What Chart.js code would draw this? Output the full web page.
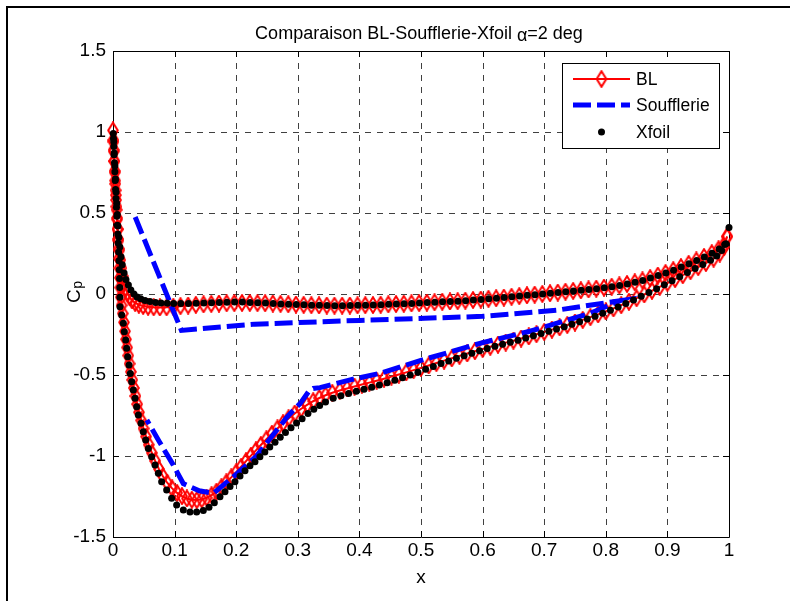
<!DOCTYPE html>
<html>
<head>
<meta charset="utf-8">
<title>Comparaison BL-Soufflerie-Xfoil</title>
<script src="https://cdn.jsdelivr.net/npm/chart.js@4.4.0/dist/chart.umd.min.js"></script>
<style>
  html, body { margin: 0; padding: 0; background: #fff; overflow: hidden; }
  canvas { display: block; }
</style>
</head>
<body>
<canvas id="cp" width="790" height="601"></canvas>
<script>
// axis ticks
const xTicks = [0, 0.1, 0.2, 0.3, 0.4, 0.5, 0.6, 0.7, 0.8, 0.9, 1];
const yTicks = [-1.5, -1, -0.5, 0, 0.5, 1, 1.5];

// BL - intrados, nose -> trailing edge
const blLowerX = [
  0.0, 0.0006, 0.0012, 0.002, 0.0028, 0.0037, 0.0046, 0.0056, 0.0066, 0.0077,
  0.0089, 0.0102, 0.0118, 0.0136, 0.0157, 0.018, 0.0206, 0.0236, 0.027, 0.031,
  0.036, 0.042, 0.049, 0.057, 0.066, 0.076, 0.087, 0.098, 0.1095, 0.122,
  0.1345, 0.147, 0.1595, 0.172, 0.1845, 0.197, 0.2095, 0.222, 0.2345, 0.247,
  0.2595, 0.272, 0.2845, 0.297, 0.3095, 0.322, 0.3345, 0.347, 0.3595, 0.372,
  0.3845, 0.397, 0.4095, 0.422, 0.4345, 0.447, 0.4595, 0.472, 0.4845, 0.497,
  0.5095, 0.522, 0.5345, 0.547, 0.5595, 0.572, 0.5845, 0.597, 0.6095, 0.622,
  0.6345, 0.647, 0.6595, 0.672, 0.6845, 0.697, 0.7095, 0.722, 0.7345, 0.747,
  0.7595, 0.772, 0.7845, 0.797, 0.8095, 0.822, 0.8345, 0.847, 0.8595, 0.872,
  0.8845, 0.897, 0.9095, 0.922, 0.9345, 0.947, 0.9595, 0.972, 0.983, 0.991,
  0.997];
const blLowerCp = [
  1.01, 0.95, 0.89, 0.82, 0.75, 0.68, 0.61, 0.54, 0.47, 0.4,
  0.33, 0.27, 0.21, 0.16, 0.11, 0.07, 0.035, 0.005, -0.02, -0.04,
  -0.055, -0.066, -0.074, -0.079, -0.082, -0.083, -0.082, -0.079, -0.075, -0.071,
  -0.067, -0.064, -0.061, -0.059, -0.057, -0.056, -0.055, -0.055, -0.056, -0.057,
  -0.059, -0.061, -0.063, -0.065, -0.067, -0.069, -0.07, -0.071, -0.072, -0.072,
  -0.071, -0.07, -0.069, -0.068, -0.066, -0.064, -0.062, -0.06, -0.058, -0.056,
  -0.053, -0.051, -0.048, -0.046, -0.044, -0.041, -0.037, -0.034, -0.03, -0.026,
  -0.022, -0.017, -0.013, -0.008, -0.004, 0.0, 0.005, 0.009, 0.014, 0.019,
  0.023, 0.028, 0.033, 0.039, 0.045, 0.053, 0.062, 0.072, 0.084, 0.098,
  0.114, 0.13, 0.147, 0.166, 0.186, 0.207, 0.229, 0.252, 0.276, 0.3,
  0.355];

// BL - extrados, nose -> trailing edge
const blUpperX = [
  0.0008, 0.0014, 0.0021, 0.0028, 0.0035, 0.0042, 0.005, 0.0058, 0.0066, 0.0074,
  0.0082, 0.009, 0.0098, 0.0105, 0.0112, 0.0119, 0.0126, 0.0138, 0.0158, 0.0178,
  0.0195, 0.0212, 0.023, 0.0248, 0.0268, 0.029, 0.0313, 0.0338, 0.0365, 0.0393,
  0.0423, 0.0458, 0.0496, 0.0537, 0.058, 0.063, 0.0685, 0.0745, 0.081, 0.088,
  0.096, 0.104, 0.112, 0.12, 0.128, 0.136, 0.144, 0.152, 0.16, 0.168,
  0.176, 0.184, 0.192, 0.2, 0.208, 0.216, 0.224, 0.232, 0.24, 0.249,
  0.258, 0.267, 0.276, 0.285, 0.295, 0.305, 0.315, 0.325, 0.335, 0.345,
  0.356, 0.368, 0.38, 0.392, 0.404, 0.416, 0.428, 0.44, 0.452, 0.464,
  0.476, 0.488, 0.5, 0.5125, 0.525, 0.5375, 0.55, 0.5625, 0.575, 0.5875,
  0.6, 0.6125, 0.625, 0.6375, 0.65, 0.6625, 0.675, 0.6875, 0.7, 0.7125,
  0.725, 0.7375, 0.75, 0.7625, 0.775, 0.7875, 0.8, 0.8125, 0.825, 0.8375,
  0.85, 0.8625, 0.875, 0.8875, 0.9, 0.9125, 0.925, 0.9375, 0.95, 0.9625,
  0.975, 0.985, 0.992, 0.997];
const blUpperCp = [
  0.94, 0.88, 0.82, 0.76, 0.7, 0.64, 0.58, 0.52, 0.46, 0.4,
  0.34, 0.28, 0.22, 0.16, 0.1, 0.04, -0.02, -0.07, -0.12, -0.175,
  -0.23, -0.28, -0.33, -0.38, -0.43, -0.48, -0.53, -0.58, -0.63, -0.68,
  -0.73, -0.78, -0.83, -0.88, -0.93, -0.98, -1.03, -1.08, -1.125, -1.165,
  -1.2, -1.228, -1.248, -1.262, -1.27, -1.272, -1.268, -1.258, -1.242, -1.22,
  -1.193, -1.163, -1.132, -1.1, -1.066, -1.032, -0.998, -0.965, -0.932, -0.897,
  -0.863, -0.83, -0.798, -0.768, -0.738, -0.71, -0.685, -0.662, -0.642, -0.625,
  -0.61, -0.596, -0.583, -0.571, -0.559, -0.547, -0.535, -0.523, -0.51, -0.497,
  -0.484, -0.47, -0.456, -0.441, -0.426, -0.411, -0.397, -0.382, -0.367, -0.353,
  -0.339, -0.326, -0.313, -0.3, -0.288, -0.275, -0.262, -0.248, -0.234, -0.22,
  -0.206, -0.191, -0.176, -0.16, -0.143, -0.126, -0.108, -0.089, -0.069, -0.048,
  -0.026, -0.003, 0.02, 0.044, 0.068, 0.092, 0.116, 0.141, 0.166, 0.191,
  0.218, 0.25, 0.29, 0.355];

// Xfoil - intrados, nose -> trailing edge (last point is the TE value)
const xfoilLowerX = [
  0.0012, 0.002, 0.003, 0.004, 0.005, 0.006, 0.007, 0.008, 0.0095, 0.011,
  0.013, 0.015, 0.018, 0.021, 0.025, 0.029, 0.034, 0.039, 0.045, 0.052,
  0.06, 0.069, 0.078, 0.088, 0.0985,
  0.11, 0.1225, 0.135, 0.1475, 0.16, 0.1725, 0.185, 0.1975, 0.21, 0.2225,
  0.235, 0.2475, 0.26, 0.2725, 0.285, 0.2975, 0.31, 0.3225, 0.335, 0.3475,
  0.36, 0.3725, 0.385, 0.3975, 0.41, 0.4225, 0.435, 0.4475, 0.46, 0.4725,
  0.485, 0.4975, 0.51, 0.5225, 0.535, 0.5475, 0.56, 0.5725, 0.585, 0.5975,
  0.61, 0.6225, 0.635, 0.6475, 0.66, 0.6725, 0.685, 0.6975, 0.71, 0.7225,
  0.735, 0.7475, 0.76, 0.7725, 0.785, 0.7975, 0.81, 0.8225, 0.835, 0.8475,
  0.86, 0.8725, 0.885, 0.8975, 0.91, 0.9225, 0.935, 0.9475, 0.96, 0.9725,
  0.984, 0.993, 1.0];
const xfoilLowerCp = [
  0.94, 0.87, 0.79, 0.71, 0.63, 0.56, 0.49, 0.42, 0.35, 0.29,
  0.23, 0.18, 0.13, 0.09, 0.055, 0.025, 0.0, -0.018, -0.03, -0.04,
  -0.047, -0.052, -0.055, -0.057, -0.058,
  -0.058, -0.058, -0.057, -0.056, -0.054, -0.052, -0.051, -0.05, -0.05, -0.052,
  -0.054, -0.056, -0.058, -0.061, -0.063, -0.065, -0.067, -0.069, -0.07, -0.071,
  -0.072, -0.072, -0.071, -0.07, -0.069, -0.068, -0.066, -0.064, -0.062, -0.06,
  -0.058, -0.056, -0.053, -0.051, -0.048, -0.046, -0.044, -0.041, -0.037, -0.034,
  -0.03, -0.026, -0.022, -0.017, -0.013, -0.008, -0.004, 0.0, 0.005, 0.009,
  0.014, 0.019, 0.023, 0.028, 0.033, 0.039, 0.045, 0.053, 0.062, 0.072,
  0.084, 0.098, 0.114, 0.13, 0.147, 0.166, 0.186, 0.207, 0.229, 0.252,
  0.278, 0.305, 0.41];

// Xfoil - extrados, nose -> trailing edge
const xfoilUpperX = [
  0.0005, 0.0008, 0.0013, 0.0018, 0.0024, 0.003, 0.0036, 0.0042, 0.0049, 0.0056,
  0.0063, 0.007, 0.0077, 0.0084, 0.0091, 0.0097, 0.0102, 0.0106, 0.011, 0.0112,
  0.0114, 0.0141, 0.0168, 0.0184, 0.0206, 0.0222, 0.0238, 0.026, 0.0281, 0.0303,
  0.033, 0.0357, 0.0384, 0.0411, 0.0455, 0.0492, 0.053, 0.0573, 0.0628, 0.0682,
  0.0736, 0.079, 0.0871, 0.0952, 0.1033, 0.1142, 0.125, 0.1358, 0.1466, 0.1558,
  0.1645, 0.1737, 0.1818, 0.19, 0.198, 0.2062, 0.2143, 0.2224, 0.2305, 0.2385,
  0.2465, 0.2545, 0.263, 0.2715, 0.28, 0.289, 0.298, 0.307, 0.3165, 0.326,
  0.3355, 0.345, 0.3575, 0.37, 0.3825, 0.395, 0.4075, 0.42, 0.4325, 0.445,
  0.4575, 0.47, 0.4825, 0.495, 0.5075, 0.52, 0.5325, 0.545, 0.5575, 0.57,
  0.5825, 0.595, 0.6075, 0.62, 0.6325, 0.645, 0.6575, 0.67, 0.6825, 0.695,
  0.7075, 0.72, 0.7325, 0.745, 0.7575, 0.77, 0.7825, 0.795, 0.8075, 0.82,
  0.8325, 0.845, 0.8575, 0.87, 0.8825, 0.895, 0.9075, 0.92, 0.9325, 0.945,
  0.9575, 0.97, 0.98, 0.988, 0.995];
const xfoilUpperCp = [
  0.99, 0.96, 0.91, 0.86, 0.81, 0.755, 0.7, 0.645, 0.59, 0.535,
  0.48, 0.425, 0.37, 0.315, 0.26, 0.205, 0.15, 0.095, 0.04, -0.02,
  -0.078, -0.13, -0.181, -0.233, -0.284, -0.335, -0.387, -0.438, -0.49, -0.541,
  -0.593, -0.644, -0.696, -0.747, -0.798, -0.85, -0.901, -0.953, -1.004, -1.056,
  -1.107, -1.159, -1.21, -1.261, -1.302, -1.333, -1.345, -1.345, -1.337, -1.317,
  -1.288, -1.251, -1.22, -1.189, -1.159, -1.123, -1.091, -1.06, -1.035, -1.005,
  -0.975, -0.945, -0.915, -0.885, -0.855, -0.825, -0.797, -0.77, -0.738, -0.712,
  -0.688, -0.666, -0.644, -0.628, -0.614, -0.601, -0.588, -0.575, -0.562, -0.548,
  -0.533, -0.517, -0.5, -0.483, -0.465, -0.447, -0.429, -0.413, -0.397, -0.381,
  -0.365, -0.35, -0.336, -0.323, -0.31, -0.298, -0.285, -0.271, -0.258, -0.244,
  -0.23, -0.216, -0.202, -0.187, -0.171, -0.154, -0.137, -0.119, -0.1, -0.08,
  -0.059, -0.037, -0.014, 0.009, 0.033, 0.057, 0.082, 0.107, 0.132, 0.157,
  0.182, 0.208, 0.234, 0.268, 0.31];

// wind tunnel pressure taps, in measurement order
const soufX = [
  0.036, 0.111, 0.23, 0.4, 0.6, 0.72, 0.823, 0.774, 0.677, 0.6,
  0.504, 0.433, 0.385, 0.336, 0.325, 0.318, 0.304, 0.283, 0.266, 0.233,
  0.195, 0.163, 0.14, 0.114, 0.097, 0.075, 0.055];
const soufCp = [
  0.475, -0.225, -0.186, -0.163, -0.138, -0.1, -0.042, -0.12, -0.23, -0.3,
  -0.405, -0.49, -0.53, -0.578, -0.583, -0.6, -0.675, -0.757, -0.84, -1.0,
  -1.13, -1.23, -1.215, -1.17, -1.05, -0.91, -0.778];

const FONT = '"Liberation Sans", Arial, Helvetica, sans-serif';

function toPoints(xs, ys) {
  return xs.map((x, i) => ({ x: x, y: ys[i] }));
}

// BL is one polyline: TE -> nose along the intrados, then back along the extrados
const blPoints = toPoints(blLowerX, blLowerCp).reverse().concat(toPoints(blUpperX, blUpperCp));
const xfoilPoints = toPoints(xfoilUpperX, xfoilUpperCp).concat(toPoints(xfoilLowerX, xfoilLowerCp));
const soufPoints = toPoints(soufX, soufCp);

// hollow red diamond marker
const diamond = document.createElement('canvas');
diamond.width = 12;
diamond.height = 18;
(function () {
  const d = diamond.getContext('2d');
  d.strokeStyle = '#ff0000';
  d.lineWidth = 2;
  d.lineJoin = 'miter';
  d.beginPath();
  d.moveTo(6, 1.2);
  d.lineTo(10.8, 9);
  d.lineTo(6, 16.8);
  d.lineTo(1.2, 9);
  d.closePath();
  d.stroke();
})();

function drawDot(ctx, x, y) {
  ctx.fillStyle = '#000';
  ctx.beginPath();
  ctx.arc(x, y, 3.5, 0, Math.PI * 2);
  ctx.fill();
}

const matlabFrame = {
  id: 'matlabFrame',
  beforeDraw(chart) {
    const ctx = chart.ctx;
    ctx.save();
    ctx.fillStyle = '#fff';
    ctx.fillRect(0, 0, chart.width, chart.height);
    ctx.strokeStyle = '#000';
    ctx.lineWidth = 2;
    ctx.beginPath();
    ctx.moveTo(7, chart.height + 2);
    ctx.lineTo(7, 7);
    ctx.lineTo(chart.width + 2, 7);
    ctx.stroke();
    ctx.restore();
  },
  beforeDatasetsDraw(chart) {
    const { ctx, chartArea: a, scales: { x, y } } = chart;
    ctx.save();
    // dotted grid
    ctx.strokeStyle = 'rgba(0,0,0,0.75)';
    ctx.lineWidth = 1;
    ctx.setLineDash([6, 6]);
    ctx.beginPath();
    xTicks.slice(1, -1).forEach(v => {
      const px = Math.round(x.getPixelForValue(v)) + 0.5;
      ctx.moveTo(px, a.bottom);
      ctx.lineTo(px, a.top);
    });
    yTicks.slice(1, -1).forEach(v => {
      const py = Math.round(y.getPixelForValue(v)) + 0.5;
      ctx.moveTo(a.left, py);
      ctx.lineTo(a.right, py);
    });
    ctx.stroke();

    // axes box with inward ticks on all four sides
    ctx.setLineDash([]);
    ctx.strokeStyle = '#000';
    ctx.beginPath();
    ctx.rect(a.left + 0.5, a.top + 0.5, a.right - a.left, a.bottom - a.top);
    xTicks.forEach(v => {
      const px = Math.round(x.getPixelForValue(v)) + 0.5;
      ctx.moveTo(px, a.bottom); ctx.lineTo(px, a.bottom - 6);
      ctx.moveTo(px, a.top); ctx.lineTo(px, a.top + 6);
    });
    yTicks.forEach(v => {
      const py = Math.round(y.getPixelForValue(v)) + 0.5;
      ctx.moveTo(a.left, py); ctx.lineTo(a.left + 6, py);
      ctx.moveTo(a.right, py); ctx.lineTo(a.right - 6, py);
    });
    ctx.stroke();
    ctx.restore();
  },
  afterDraw(chart) {
    const { ctx, chartArea: a } = chart;
    ctx.save();
    ctx.fillStyle = '#000';
    ctx.textAlign = 'left';
    ctx.textBaseline = 'alphabetic';

    // title
    ctx.font = '18px ' + FONT;
    const t1 = 'Comparaison BL-Soufflerie-Xfoil ', t2 = '\u03b1', t3 = '=2 deg';
    const w1 = ctx.measureText(t1).width, w2 = ctx.measureText(t2).width, w3 = ctx.measureText(t3).width;
    const tx = (a.left + a.right) / 2 - 2 - (w1 + w2 + w3) / 2;
    ctx.fillText(t1, tx, 39);
    ctx.fillText(t2, tx + w1, 41);
    ctx.fillText(t3, tx + w1 + w2, 39);

    // x label
    ctx.font = '19px ' + FONT;
    ctx.textAlign = 'center';
    ctx.fillText('x', (a.left + a.right) / 2, 583);

    // y label C_p
    ctx.save();
    ctx.translate(80, 303);
    ctx.rotate(-Math.PI / 2);
    ctx.textAlign = 'left';
    ctx.font = '19px ' + FONT;
    ctx.fillText('C', 0, 0);
    const cw = ctx.measureText('C').width;
    ctx.font = '14px ' + FONT;
    ctx.fillText('p', cw + 0.5, 2);
    ctx.restore();

    // legend
    const lx = 562, ly = 63, lw = 157, lh = 85;
    ctx.fillStyle = '#fff';
    ctx.fillRect(lx, ly, lw, lh);
    ctx.strokeStyle = '#000';
    ctx.lineWidth = 1;
    ctx.strokeRect(lx + 0.5, ly + 0.5, lw, lh);
    const x0 = 573, x1 = 630, xm = (x0 + x1) / 2;
    const rows = [79, 105, 132];

    ctx.strokeStyle = '#ff0000';
    ctx.lineWidth = 2;
    ctx.beginPath(); ctx.moveTo(x0, rows[0]); ctx.lineTo(x1, rows[0]); ctx.stroke();
    ctx.drawImage(diamond, xm - diamond.width / 2, rows[0] - diamond.height / 2);

    ctx.strokeStyle = '#0000ff';
    ctx.lineWidth = 5;
    ctx.setLineDash([18, 6]);
    ctx.beginPath(); ctx.moveTo(x0, rows[1]); ctx.lineTo(x1, rows[1]); ctx.stroke();
    ctx.setLineDash([]);

    drawDot(ctx, xm, rows[2]);

    ctx.fillStyle = '#000';
    ctx.font = '17.5px ' + FONT;
    ctx.textAlign = 'left';
    ctx.textBaseline = 'middle';
    ctx.fillText('BL', 636, rows[0] + 1);
    ctx.fillText('Soufflerie', 636, rows[1] + 1);
    ctx.fillText('Xfoil', 636, rows[2] + 1);
    ctx.restore();
  }
};

new Chart(document.getElementById('cp'), {
  type: 'scatter',
  data: {
    datasets: [{
      label: 'Xfoil',
      data: xfoilPoints,
      showLine: false,
      pointStyle: 'circle',
      pointRadius: 3.5,
      pointBackgroundColor: '#000',
      pointBorderWidth: 0,
      order: 1,
      clip: false
    }, {
      label: 'Soufflerie',
      data: soufPoints,
      showLine: true,
      borderColor: '#0000ff',
      borderWidth: 5,
      borderDash: [18, 6],
      pointRadius: 0,
      tension: 0,
      order: 2,
      clip: false
    }, {
      label: 'BL',
      data: blPoints,
      showLine: true,
      borderColor: '#ff0000',
      borderWidth: 2,
      pointStyle: diamond,
      pointRadius: 5,
      tension: 0,
      order: 3,
      clip: false
    }]
  },
  options: {
    responsive: false,
    devicePixelRatio: 1,
    animation: false,
    events: [],
    layout: { padding: { left: 0, right: 61, top: 51, bottom: 0 } },
    scales: {
      x: {
        type: 'linear',
        min: 0,
        max: 1,
        afterBuildTicks: s => { s.ticks = xTicks.map(v => ({ value: v })); },
        afterFit: s => { s.height = 64; },
        ticks: {
          color: '#000',
          font: { family: FONT, size: 19 },
          padding: 2,
          maxRotation: 0,
          autoSkip: false,
          callback: v => String(v)
        },
        grid: { display: false, drawTicks: false },
        border: { display: false }
      },
      y: {
        type: 'linear',
        min: -1.5,
        max: 1.5,
        afterBuildTicks: s => { s.ticks = yTicks.map(v => ({ value: v })); },
        afterFit: s => { s.width = 113; },
        ticks: {
          color: '#000',
          font: { family: FONT, size: 19 },
          padding: 7,
          autoSkip: false,
          callback: v => String(v)
        },
        grid: { display: false, drawTicks: false },
        border: { display: false }
      }
    },
    plugins: {
      legend: { display: false },
      title: { display: false },
      tooltip: { enabled: false }
    }
  },
  plugins: [matlabFrame]
});
</script>
</body>
</html>
